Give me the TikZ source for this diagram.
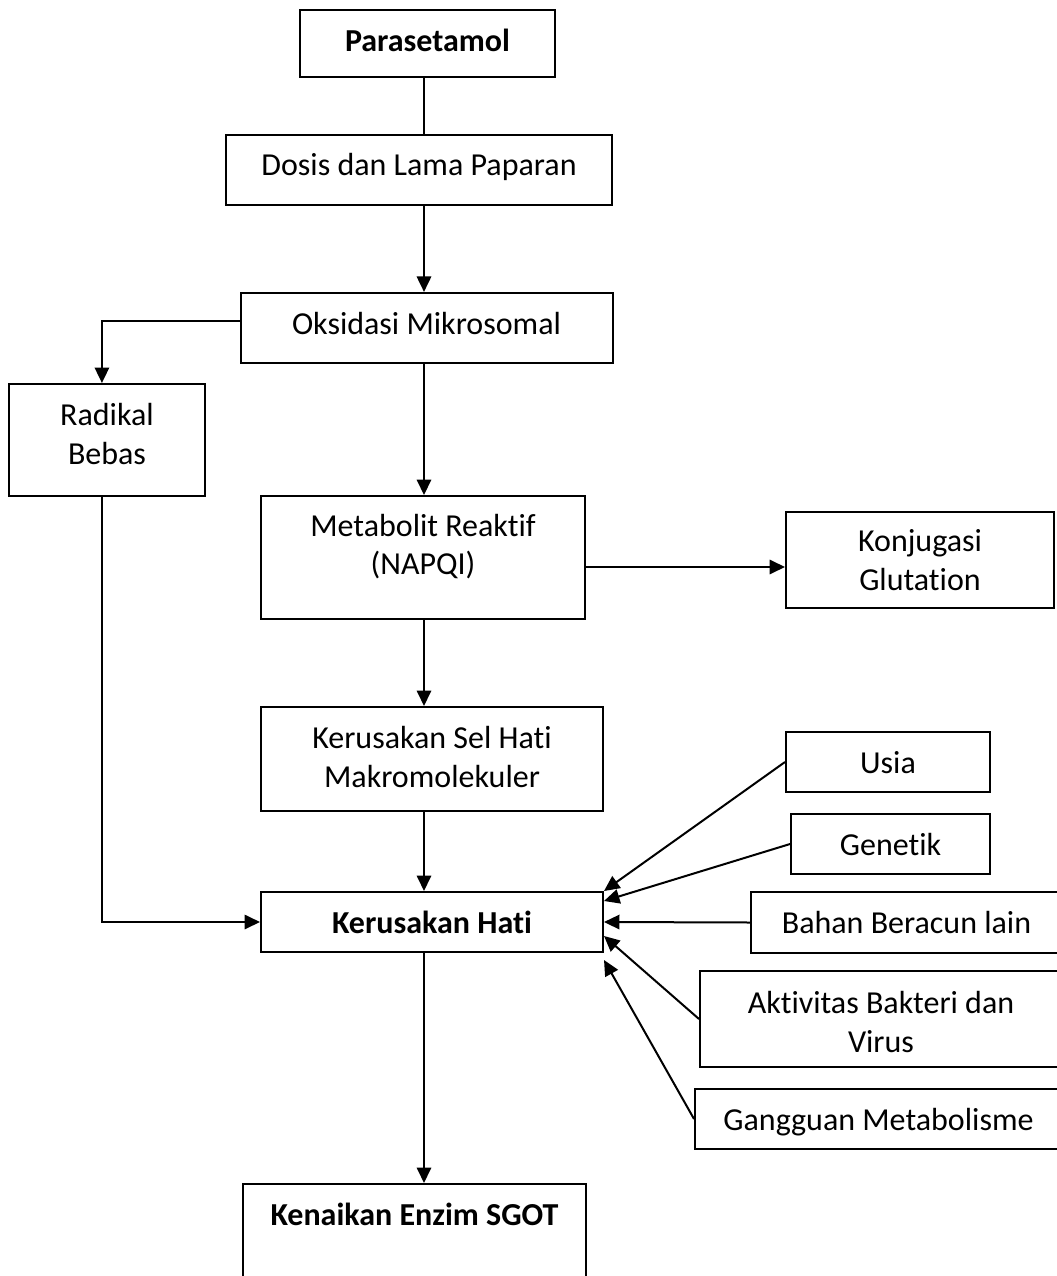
\documentclass[tikz,border=0pt]{standalone}
\usepackage{fontspec}
\setmainfont{Carlito}[Ligatures=NoCommon]
\usetikzlibrary{arrows.meta}

\begin{document}
\begin{tikzpicture}[x=0.375pt, y=-0.375pt, line width=0.75pt,
        every node/.style={draw, align=center, inner sep=0pt, text height=15.4pt, font=\fontsize{12}{14.5}\selectfont},
        arr/.style={-{Triangle[length=5.8pt, width=5.4pt]}}]
                \useasboundingbox (0,0) rectangle (1056,1276);
                \coordinate (col) at (424,0);

                \node[minimum width=95.6pt, text depth=9.75pt, font=\fontsize{12}{14.5}\selectfont\bfseries] (P) at (427.5,43.5) {Parasetamol};
                \node[minimum width=144.75pt, text depth=10.9pt] (D) at (419,170) {Dosis dan Lama Paparan};
                \node[minimum width=139.5pt, text depth=10.9pt] (O) at (426.5,328) {Oksidasi Mikrosomal};
                \node[minimum width=73.5pt, text height=30pt, text depth=12pt] (R) at (107,440) {Radikal\\Bebas};
                \node[minimum width=121.5pt, text height=29.6pt, text depth=16.5pt] (M) at (423,557.5) {Metabolit Reaktif\\(NAPQI)};
                \node[minimum width=100.5pt, text height=29.25pt, text depth=6.75pt] (K) at (920,560) {Konjugasi\\Glutation};
                \node[minimum width=128.25pt, text height=30pt, text depth=9pt] (S) at (432,759) {Kerusakan Sel Hati\\Makromolekuler};
                \node[minimum width=128.25pt, text depth=7.1pt, font=\fontsize{12}{14.5}\selectfont\bfseries] (H) at (432,922) {Kerusakan Hati};
                \node[minimum width=76.5pt, text depth=7.1pt] (U) at (888,762) {Usia};
                \node[minimum width=74.6pt, text depth=7.1pt] (G) at (890.5,844) {Genetik};
                \node[minimum width=116.6pt, text depth=7.5pt] (B) at (906.5,922.5) {Bahan Beracun lain};
                \node[minimum width=135.75pt, text height=30.4pt, text depth=5.6pt] (A) at (881,1019) {Aktivitas Bakteri dan\\Virus};
                \node[minimum width=137.6pt, text depth=7.1pt] (GM) at (878.5,1119) {Gangguan Metabolisme};
                \node[minimum width=128.6pt, text depth=28.1pt, font=\fontsize{12}{14.5}\selectfont\bfseries] (E) at (414.5,1242) {Kenaikan Enzim SGOT};

                \draw (P.south -| col) -- (D.north -| col);
                \draw[arr] (D.south -| col) -- (O.north -| col);
                \draw[arr] ([yshift=2.6pt]O.west) -| ([xshift=-1.9pt]R.north);
                \draw[arr] (O.south -| col) -- (M.north -| col);
                \draw[arr] ([yshift=-3.56pt]M.east) -- ([yshift=-3.56pt]M.east -| K.west);
                \draw[arr] (M.south -| col) -- (S.north -| col);
                \draw[arr] (S.south -| col) -- (H.north -| col);
                \draw[arr] ([xshift=-1.9pt]R.south) |- (H.west);
                \draw[arr] (H.south -| col) -- (E.north -| col);
                \draw[arr] (U.west) -- (H.north east);
                \draw[arr] (G.west) -- ([yshift=-3.75pt]H.north east);
                \draw[arr] (B.west) -- (H.east);
                \draw[arr] (A.west) -- ([yshift=-5.25pt]H.east);
                \draw[arr] (GM.west) -- ([yshift=-14.25pt]H.east);
            \end{tikzpicture}
\end{document}
